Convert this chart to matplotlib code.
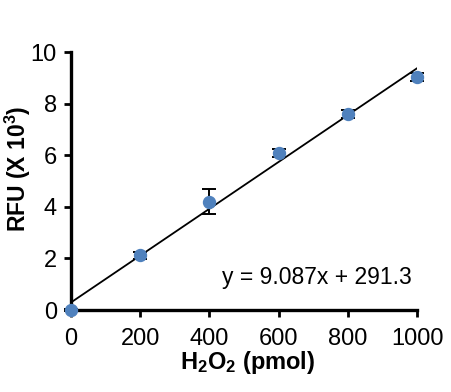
import matplotlib
matplotlib.use("Agg")
import matplotlib.pyplot as plt
import numpy as np

plt.rcParams['font.family'] = ['Liberation Sans', 'DejaVu Sans']
plt.rcParams['mathtext.fontset'] = 'custom'
plt.rcParams['mathtext.rm'] = 'Liberation Sans:bold'
plt.rcParams['mathtext.it'] = 'Liberation Sans:bold'
plt.rcParams['mathtext.bf'] = 'Liberation Sans:bold'
plt.rcParams['mathtext.default'] = 'rm'

h2o2 = [0, 200, 400, 600, 800, 1000]
rfu = [0.0, 2.12, 4.2, 6.1, 7.6, 9.05]
err = [0.05, 0.14, 0.48, 0.15, 0.15, 0.15]
slope = 9.087
intercept = 291.3
eq_label = "y = 9.087x + 291.3"
xticks = [0, 200, 400, 600, 800, 1000]
yticks = [0, 2, 4, 6, 8, 10]

fig = plt.figure(figsize=(4.51, 3.92), dpi=100)
ax = fig.add_axes([0.157, 0.209, 0.768, 0.658])

xf = np.array([0, 1000])
ax.plot(xf, (slope * xf + intercept) / 1000.0, color='black', lw=1.3, zorder=2)
ax.errorbar(h2o2, rfu, yerr=err, fmt='o', color='#4F81BD', markersize=8.6,
            ecolor='black', elinewidth=1.4, capsize=5, capthick=1.4, zorder=3,
            clip_on=False)

ax.set_xlim(0, 1000)
ax.set_ylim(0, 10)
ax.set_xticks(xticks)
ax.set_yticks(yticks)
ax.tick_params(axis='both', labelsize=17, width=2, length=5, direction='out')
ax.tick_params(axis='x', pad=8)
ax.tick_params(axis='y', pad=5)
for s in ['top', 'right']:
    ax.spines[s].set_visible(False)
for s in ['left', 'bottom']:
    ax.spines[s].set_linewidth(2.4)

ax.set_xlabel(r'H$_\mathregular{2}$O$_\mathregular{2}$ (pmol)', fontsize=17, fontweight='bold')
ax.xaxis.set_label_coords(0.509, -0.15)
ax.set_ylabel(r'RFU (X 10$^\mathregular{3}$)', fontsize=16.5, fontweight='bold')
ax.yaxis.set_label_coords(-0.11, 0.547)

ax.text(711, 1.28, eq_label, fontsize=16.5, ha='center', va='center')

fig.savefig('out.png', dpi=100)
